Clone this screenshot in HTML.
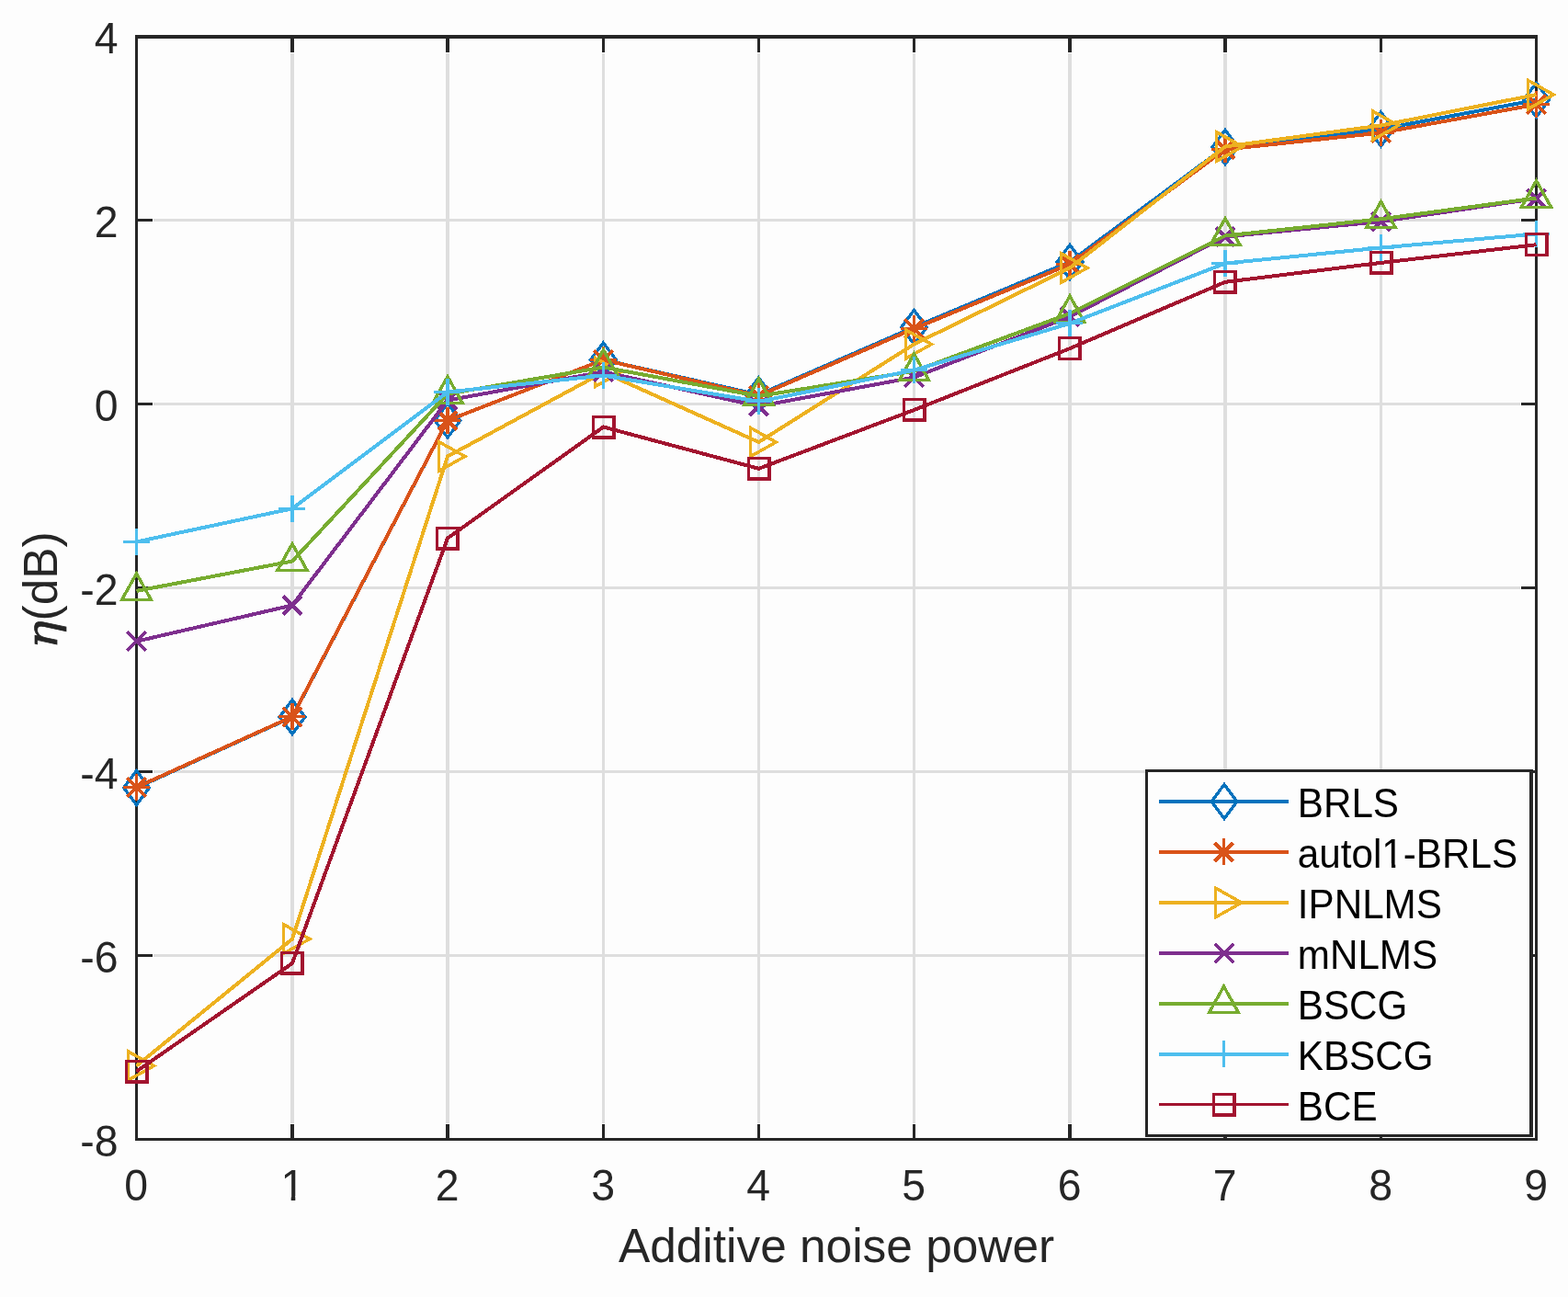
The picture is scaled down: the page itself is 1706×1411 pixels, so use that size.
<!DOCTYPE html>
<html lang="en"><head><meta charset="utf-8">
<style>html,body{margin:0;padding:0;background:#fdfdfd;}body{width:1706px;height:1411px;overflow:hidden;}svg{display:block;}text{font-family:"Liberation Sans",sans-serif;font-kerning:none;}.tk{font-size:46.4px;fill:#262626;}.lb{font-size:51.4px;fill:#262626;}.lg{font-size:42.2px;fill:#000;}.eta{font-family:"DejaVu Serif","Liberation Serif",serif;font-style:italic;font-size:46.5px;fill:#262626;}</style></head><body>
<svg width="1706" height="1411" viewBox="0 0 1706 1411">
<rect x="0" y="0" width="1706" height="1411" fill="#fdfdfd"/>
<g shape-rendering="crispEdges">
<rect x="316" y="58" width="4" height="1164" fill="#dedede"/>
<rect x="485" y="58" width="4" height="1164" fill="#dedede"/>
<rect x="655" y="58" width="3" height="1164" fill="#dedede"/>
<rect x="824" y="58" width="3" height="1164" fill="#dedede"/>
<rect x="993" y="58" width="3" height="1164" fill="#dedede"/>
<rect x="1162" y="58" width="4" height="1164" fill="#dedede"/>
<rect x="1331" y="58" width="4" height="1164" fill="#dedede"/>
<rect x="1501" y="58" width="3" height="1164" fill="#dedede"/>
<rect x="167" y="238" width="1487" height="3" fill="#dedede"/>
<rect x="167" y="438" width="1487" height="3" fill="#dedede"/>
<rect x="167" y="638" width="1487" height="3" fill="#dedede"/>
<rect x="167" y="838" width="1487" height="3" fill="#dedede"/>
<rect x="167" y="1038" width="1487" height="3" fill="#dedede"/>
<rect x="147" y="38" width="1526" height="4" fill="#262626"/>
<rect x="147" y="1238" width="1526" height="3" fill="#262626"/>
<rect x="147" y="38" width="3" height="1203" fill="#262626"/>
<rect x="1670" y="38" width="3" height="1203" fill="#262626"/>
<rect x="316" y="42" width="4" height="15" fill="#262626"/>
<rect x="316" y="1223" width="4" height="15" fill="#262626"/>
<rect x="485" y="42" width="4" height="15" fill="#262626"/>
<rect x="485" y="1223" width="4" height="15" fill="#262626"/>
<rect x="655" y="42" width="3" height="15" fill="#262626"/>
<rect x="655" y="1223" width="3" height="15" fill="#262626"/>
<rect x="824" y="42" width="3" height="15" fill="#262626"/>
<rect x="824" y="1223" width="3" height="15" fill="#262626"/>
<rect x="993" y="42" width="3" height="15" fill="#262626"/>
<rect x="993" y="1223" width="3" height="15" fill="#262626"/>
<rect x="1162" y="42" width="4" height="15" fill="#262626"/>
<rect x="1162" y="1223" width="4" height="15" fill="#262626"/>
<rect x="1331" y="42" width="4" height="15" fill="#262626"/>
<rect x="1331" y="1223" width="4" height="15" fill="#262626"/>
<rect x="1501" y="42" width="3" height="15" fill="#262626"/>
<rect x="1501" y="1223" width="3" height="15" fill="#262626"/>
<rect x="150" y="238" width="16" height="3" fill="#262626"/>
<rect x="1655" y="238" width="15" height="3" fill="#262626"/>
<rect x="150" y="438" width="16" height="3" fill="#262626"/>
<rect x="1655" y="438" width="15" height="3" fill="#262626"/>
<rect x="150" y="638" width="16" height="3" fill="#262626"/>
<rect x="1655" y="638" width="15" height="3" fill="#262626"/>
<rect x="150" y="838" width="16" height="3" fill="#262626"/>
<rect x="1655" y="838" width="15" height="3" fill="#262626"/>
<rect x="150" y="1038" width="16" height="3" fill="#262626"/>
<rect x="1655" y="1038" width="15" height="3" fill="#262626"/>
</g>
<text class="tk" transform="translate(148.2 1306.2) scale(1 1.031)" text-anchor="middle">0</text>
<text class="tk" transform="translate(318.4 1306.2) scale(1 1.031)" text-anchor="middle">1</text>
<rect x="305" y="1301.2" width="11.7" height="6.3" fill="#fdfdfd"/>
<rect x="321.3" y="1301.2" width="10.7" height="6.3" fill="#fdfdfd"/>
<text class="tk" transform="translate(486.7 1306.2) scale(1 1.031)" text-anchor="middle">2</text>
<text class="tk" transform="translate(656.2 1306.2) scale(1 1.031)" text-anchor="middle">3</text>
<text class="tk" transform="translate(825.2 1306.2) scale(1 1.031)" text-anchor="middle">4</text>
<text class="tk" transform="translate(994.2 1306.2) scale(1 1.031)" text-anchor="middle">5</text>
<text class="tk" transform="translate(1163.7 1306.2) scale(1 1.031)" text-anchor="middle">6</text>
<text class="tk" transform="translate(1332.7 1306.2) scale(1 1.031)" text-anchor="middle">7</text>
<text class="tk" transform="translate(1502.2 1306.2) scale(1 1.031)" text-anchor="middle">8</text>
<text class="tk" transform="translate(1671.2 1306.2) scale(1 1.031)" text-anchor="middle">9</text>
<text class="tk" transform="translate(128.6 58) scale(1 1.031)" text-anchor="end">4</text>
<text class="tk" transform="translate(128.6 258) scale(1 1.031)" text-anchor="end">2</text>
<text class="tk" transform="translate(128.6 458) scale(1 1.031)" text-anchor="end">0</text>
<text class="tk" transform="translate(128.6 658) scale(1 1.031)" text-anchor="end">-2</text>
<text class="tk" transform="translate(128.6 858) scale(1 1.031)" text-anchor="end">-4</text>
<text class="tk" transform="translate(128.6 1058) scale(1 1.031)" text-anchor="end">-6</text>
<text class="tk" transform="translate(128.6 1258) scale(1 1.031)" text-anchor="end">-8</text>
<text class="lb" x="910" y="1373.1" text-anchor="middle">Additive noise power</text>
<text class="lb" transform="translate(62 705.6) rotate(-90)"><tspan class="eta" stroke="#262626" stroke-width="0.7" textLength="30.2" lengthAdjust="spacingAndGlyphs">η</tspan>(dB)</text>
<g shape-rendering="crispEdges"><polyline points="148.5,857 318,780 487,457.5 656.5,391.5 825.5,429.5 994.5,356 1164,285 1333,159.9 1502.5,140.5 1671.5,108.8" fill="none" stroke="#0072BD" stroke-width="4" stroke-linejoin="round"/>
<path d="M148.5 835.7L164.5 857L148.5 878.3L132.5 857ZM148.5 841.17L160.3 857L148.5 872.83L136.7 857Z" fill="#0072BD" fill-rule="evenodd"/>
<path d="M318 758.7L334 780L318 801.3L302 780ZM318 764.17L329.8 780L318 795.83L306.2 780Z" fill="#0072BD" fill-rule="evenodd"/>
<path d="M487 436.2L503 457.5L487 478.8L471 457.5ZM487 441.67L498.8 457.5L487 473.33L475.2 457.5Z" fill="#0072BD" fill-rule="evenodd"/>
<path d="M656.5 370.2L672.5 391.5L656.5 412.8L640.5 391.5ZM656.5 375.67L668.3 391.5L656.5 407.33L644.7 391.5Z" fill="#0072BD" fill-rule="evenodd"/>
<path d="M825.5 408.2L841.5 429.5L825.5 450.8L809.5 429.5ZM825.5 413.67L837.3 429.5L825.5 445.33L813.7 429.5Z" fill="#0072BD" fill-rule="evenodd"/>
<path d="M994.5 334.7L1010.5 356L994.5 377.3L978.5 356ZM994.5 340.17L1006.3 356L994.5 371.83L982.7 356Z" fill="#0072BD" fill-rule="evenodd"/>
<path d="M1164 263.7L1180 285L1164 306.3L1148 285ZM1164 269.17L1175.8 285L1164 300.83L1152.2 285Z" fill="#0072BD" fill-rule="evenodd"/>
<path d="M1333 138.6L1349 159.9L1333 181.2L1317 159.9ZM1333 144.07L1344.8 159.9L1333 175.73L1321.2 159.9Z" fill="#0072BD" fill-rule="evenodd"/>
<path d="M1502.5 119.2L1518.5 140.5L1502.5 161.8L1486.5 140.5ZM1502.5 124.67L1514.3 140.5L1502.5 156.33L1490.7 140.5Z" fill="#0072BD" fill-rule="evenodd"/>
<path d="M1671.5 87.5L1687.5 108.8L1671.5 130.1L1655.5 108.8ZM1671.5 92.97L1683.3 108.8L1671.5 124.63L1659.7 108.8Z" fill="#0072BD" fill-rule="evenodd"/>
</g>
<g shape-rendering="crispEdges"><polyline points="148.5,856.5 318,779.7 487,457.5 656.5,391.5 825.5,430.5 994.5,357.5 1164,287.5 1333,162.5 1502.5,144.5 1671.5,113.7" fill="none" stroke="#D95319" stroke-width="4" stroke-linejoin="round"/>
<rect x="147" y="842" width="3" height="29" fill="#D95319"/><rect x="134" y="855" width="29" height="3" fill="#D95319"/><path d="M138.3 846.3L158.7 866.7M138.3 866.7L158.7 846.3" stroke="#D95319" stroke-width="3.8" fill="none"/>
<rect x="316" y="765" width="4" height="29" fill="#D95319"/><rect x="303" y="778" width="29" height="3" fill="#D95319"/><path d="M307.8 769.5L328.2 789.9M307.8 789.9L328.2 769.5" stroke="#D95319" stroke-width="3.8" fill="none"/>
<rect x="485" y="443" width="4" height="29" fill="#D95319"/><rect x="472" y="456" width="29" height="3" fill="#D95319"/><path d="M476.8 447.3L497.2 467.7M476.8 467.7L497.2 447.3" stroke="#D95319" stroke-width="3.8" fill="none"/>
<rect x="655" y="377" width="3" height="29" fill="#D95319"/><rect x="642" y="390" width="29" height="3" fill="#D95319"/><path d="M646.3 381.3L666.7 401.7M646.3 401.7L666.7 381.3" stroke="#D95319" stroke-width="3.8" fill="none"/>
<rect x="824" y="416" width="3" height="29" fill="#D95319"/><rect x="811" y="429" width="29" height="3" fill="#D95319"/><path d="M815.3 420.3L835.7 440.7M815.3 440.7L835.7 420.3" stroke="#D95319" stroke-width="3.8" fill="none"/>
<rect x="993" y="343" width="3" height="29" fill="#D95319"/><rect x="980" y="356" width="29" height="3" fill="#D95319"/><path d="M984.3 347.3L1004.7 367.7M984.3 367.7L1004.7 347.3" stroke="#D95319" stroke-width="3.8" fill="none"/>
<rect x="1162" y="273" width="4" height="29" fill="#D95319"/><rect x="1149" y="286" width="29" height="3" fill="#D95319"/><path d="M1153.8 277.3L1174.2 297.7M1153.8 297.7L1174.2 277.3" stroke="#D95319" stroke-width="3.8" fill="none"/>
<rect x="1331" y="148" width="4" height="29" fill="#D95319"/><rect x="1318" y="161" width="29" height="3" fill="#D95319"/><path d="M1322.8 152.3L1343.2 172.7M1322.8 172.7L1343.2 152.3" stroke="#D95319" stroke-width="3.8" fill="none"/>
<rect x="1501" y="130" width="3" height="29" fill="#D95319"/><rect x="1488" y="143" width="29" height="3" fill="#D95319"/><path d="M1492.3 134.3L1512.7 154.7M1492.3 154.7L1512.7 134.3" stroke="#D95319" stroke-width="3.8" fill="none"/>
<rect x="1670" y="99" width="3" height="29" fill="#D95319"/><rect x="1657" y="112" width="29" height="3" fill="#D95319"/><path d="M1661.3 103.5L1681.7 123.9M1661.3 123.9L1681.7 103.5" stroke="#D95319" stroke-width="3.8" fill="none"/>
</g>
<g shape-rendering="crispEdges"><polyline points="148.5,1159.5 318,1021.5 487,496.5 656.5,405 825.5,481 994.5,374.5 1164,291.5 1333,159.5 1502.5,136.5 1671.5,103" fill="none" stroke="#EDB120" stroke-width="4" stroke-linejoin="round"/>
<path d="M170.9 1159.5L137.5 1178.2L137.5 1140.8ZM163.9 1159.5L140.5 1172.55L140.5 1146.45Z" fill="#EDB120" fill-rule="evenodd"/>
<path d="M340.4 1021.5L307 1040.2L307 1002.8ZM333.4 1021.5L310 1034.55L310 1008.45Z" fill="#EDB120" fill-rule="evenodd"/>
<path d="M509.4 496.5L476 515.2L476 477.8ZM502.4 496.5L479 509.55L479 483.45Z" fill="#EDB120" fill-rule="evenodd"/>
<path d="M678.9 405L645.5 423.7L645.5 386.3ZM671.9 405L648.5 418.05L648.5 391.95Z" fill="#EDB120" fill-rule="evenodd"/>
<path d="M847.9 481L814.5 499.7L814.5 462.3ZM840.9 481L817.5 494.05L817.5 467.95Z" fill="#EDB120" fill-rule="evenodd"/>
<path d="M1016.9 374.5L983.5 393.2L983.5 355.8ZM1009.9 374.5L986.5 387.55L986.5 361.45Z" fill="#EDB120" fill-rule="evenodd"/>
<path d="M1186.4 291.5L1153 310.2L1153 272.8ZM1179.4 291.5L1156 304.55L1156 278.45Z" fill="#EDB120" fill-rule="evenodd"/>
<path d="M1355.4 159.5L1322 178.2L1322 140.8ZM1348.4 159.5L1325 172.55L1325 146.45Z" fill="#EDB120" fill-rule="evenodd"/>
<path d="M1524.9 136.5L1491.5 155.2L1491.5 117.8ZM1517.9 136.5L1494.5 149.55L1494.5 123.45Z" fill="#EDB120" fill-rule="evenodd"/>
<path d="M1693.9 103L1660.5 121.7L1660.5 84.3ZM1686.9 103L1663.5 116.05L1663.5 89.95Z" fill="#EDB120" fill-rule="evenodd"/>
</g>
<g shape-rendering="crispEdges"><polyline points="148.5,697.7 318,658.5 487,435.5 656.5,404.5 825.5,441.9 994.5,410.5 1164,344.5 1333,257.5 1502.5,241 1671.5,216" fill="none" stroke="#7E2F8E" stroke-width="4" stroke-linejoin="round"/>
<path d="M138.3 687.5L158.7 707.9M138.3 707.9L158.7 687.5" stroke="#7E2F8E" stroke-width="3.8" fill="none"/>
<path d="M307.8 648.3L328.2 668.7M307.8 668.7L328.2 648.3" stroke="#7E2F8E" stroke-width="3.8" fill="none"/>
<path d="M476.8 425.3L497.2 445.7M476.8 445.7L497.2 425.3" stroke="#7E2F8E" stroke-width="3.8" fill="none"/>
<path d="M646.3 394.3L666.7 414.7M646.3 414.7L666.7 394.3" stroke="#7E2F8E" stroke-width="3.8" fill="none"/>
<path d="M815.3 431.7L835.7 452.1M815.3 452.1L835.7 431.7" stroke="#7E2F8E" stroke-width="3.8" fill="none"/>
<path d="M984.3 400.3L1004.7 420.7M984.3 420.7L1004.7 400.3" stroke="#7E2F8E" stroke-width="3.8" fill="none"/>
<path d="M1153.8 334.3L1174.2 354.7M1153.8 354.7L1174.2 334.3" stroke="#7E2F8E" stroke-width="3.8" fill="none"/>
<path d="M1322.8 247.3L1343.2 267.7M1322.8 267.7L1343.2 247.3" stroke="#7E2F8E" stroke-width="3.8" fill="none"/>
<path d="M1492.3 230.8L1512.7 251.2M1492.3 251.2L1512.7 230.8" stroke="#7E2F8E" stroke-width="3.8" fill="none"/>
<path d="M1661.3 205.8L1681.7 226.2M1661.3 226.2L1681.7 205.8" stroke="#7E2F8E" stroke-width="3.8" fill="none"/>
</g>
<g shape-rendering="crispEdges"><polyline points="148.5,642.9 318,610.5 487,428.5 656.5,399.5 825.5,430.9 994.5,403.8 1164,341 1333,256.5 1502.5,238.3 1671.5,215.5" fill="none" stroke="#77AC30" stroke-width="4" stroke-linejoin="round"/>
<path d="M148.5 620.5L167.2 653.9L129.8 653.9ZM148.5 627.5L161.55 650.9L135.45 650.9Z" fill="#77AC30" fill-rule="evenodd"/>
<path d="M318 588.1L336.7 621.5L299.3 621.5ZM318 595.1L331.05 618.5L304.95 618.5Z" fill="#77AC30" fill-rule="evenodd"/>
<path d="M487 406.1L505.7 439.5L468.3 439.5ZM487 413.1L500.05 436.5L473.95 436.5Z" fill="#77AC30" fill-rule="evenodd"/>
<path d="M656.5 377.1L675.2 410.5L637.8 410.5ZM656.5 384.1L669.55 407.5L643.45 407.5Z" fill="#77AC30" fill-rule="evenodd"/>
<path d="M825.5 408.5L844.2 441.9L806.8 441.9ZM825.5 415.5L838.55 438.9L812.45 438.9Z" fill="#77AC30" fill-rule="evenodd"/>
<path d="M994.5 381.4L1013.2 414.8L975.8 414.8ZM994.5 388.4L1007.55 411.8L981.45 411.8Z" fill="#77AC30" fill-rule="evenodd"/>
<path d="M1164 318.6L1182.7 352L1145.3 352ZM1164 325.6L1177.05 349L1150.95 349Z" fill="#77AC30" fill-rule="evenodd"/>
<path d="M1333 234.1L1351.7 267.5L1314.3 267.5ZM1333 241.1L1346.05 264.5L1319.95 264.5Z" fill="#77AC30" fill-rule="evenodd"/>
<path d="M1502.5 215.9L1521.2 249.3L1483.8 249.3ZM1502.5 222.9L1515.55 246.3L1489.45 246.3Z" fill="#77AC30" fill-rule="evenodd"/>
<path d="M1671.5 193.1L1690.2 226.5L1652.8 226.5ZM1671.5 200.1L1684.55 223.5L1658.45 223.5Z" fill="#77AC30" fill-rule="evenodd"/>
</g>
<g shape-rendering="crispEdges"><polyline points="148.5,589.5 318,553.3 487,426.5 656.5,408.5 825.5,436.8 994.5,402.8 1164,351.8 1333,286.5 1502.5,269.5 1671.5,254.5" fill="none" stroke="#4DBEEE" stroke-width="4" stroke-linejoin="round"/>
<rect x="147" y="575" width="3" height="29" fill="#4DBEEE"/><rect x="134" y="588" width="29" height="3" fill="#4DBEEE"/>
<rect x="316" y="539" width="4" height="29" fill="#4DBEEE"/><rect x="303" y="552" width="29" height="3" fill="#4DBEEE"/>
<rect x="485" y="412" width="4" height="29" fill="#4DBEEE"/><rect x="472" y="425" width="29" height="3" fill="#4DBEEE"/>
<rect x="655" y="394" width="3" height="29" fill="#4DBEEE"/><rect x="642" y="407" width="29" height="3" fill="#4DBEEE"/>
<rect x="824" y="422" width="3" height="29" fill="#4DBEEE"/><rect x="811" y="435" width="29" height="3" fill="#4DBEEE"/>
<rect x="993" y="388" width="3" height="29" fill="#4DBEEE"/><rect x="980" y="401" width="29" height="3" fill="#4DBEEE"/>
<rect x="1162" y="337" width="4" height="29" fill="#4DBEEE"/><rect x="1149" y="350" width="29" height="3" fill="#4DBEEE"/>
<rect x="1331" y="272" width="4" height="29" fill="#4DBEEE"/><rect x="1318" y="285" width="29" height="3" fill="#4DBEEE"/>
<rect x="1501" y="255" width="3" height="29" fill="#4DBEEE"/><rect x="1488" y="268" width="29" height="3" fill="#4DBEEE"/>
<rect x="1670" y="240" width="3" height="29" fill="#4DBEEE"/><rect x="1657" y="253" width="29" height="3" fill="#4DBEEE"/>
</g>
<g shape-rendering="crispEdges"><polyline points="148.5,1165.5 318,1048 487,585.5 656.5,464.5 825.5,509.8 994.5,446 1164,379.1 1333,306.8 1502.5,285.9 1671.5,266.2" fill="none" stroke="#A2142F" stroke-width="4" stroke-linejoin="round"/>
<path d="M135.5 1152.5L161.5 1152.5L161.5 1178.5L135.5 1178.5ZM138.5 1155.5L157.9 1155.5L157.9 1174.9L138.5 1174.9Z" fill="#A2142F" fill-rule="evenodd"/>
<path d="M305 1035L331 1035L331 1061L305 1061ZM308 1038L327.4 1038L327.4 1057.4L308 1057.4Z" fill="#A2142F" fill-rule="evenodd"/>
<path d="M474 572.5L500 572.5L500 598.5L474 598.5ZM477 575.5L496.4 575.5L496.4 594.9L477 594.9Z" fill="#A2142F" fill-rule="evenodd"/>
<path d="M643.5 451.5L669.5 451.5L669.5 477.5L643.5 477.5ZM646.5 454.5L665.9 454.5L665.9 473.9L646.5 473.9Z" fill="#A2142F" fill-rule="evenodd"/>
<path d="M812.5 496.8L838.5 496.8L838.5 522.8L812.5 522.8ZM815.5 499.8L834.9 499.8L834.9 519.2L815.5 519.2Z" fill="#A2142F" fill-rule="evenodd"/>
<path d="M981.5 433L1007.5 433L1007.5 459L981.5 459ZM984.5 436L1003.9 436L1003.9 455.4L984.5 455.4Z" fill="#A2142F" fill-rule="evenodd"/>
<path d="M1151 366.1L1177 366.1L1177 392.1L1151 392.1ZM1154 369.1L1173.4 369.1L1173.4 388.5L1154 388.5Z" fill="#A2142F" fill-rule="evenodd"/>
<path d="M1320 293.8L1346 293.8L1346 319.8L1320 319.8ZM1323 296.8L1342.4 296.8L1342.4 316.2L1323 316.2Z" fill="#A2142F" fill-rule="evenodd"/>
<path d="M1489.5 272.9L1515.5 272.9L1515.5 298.9L1489.5 298.9ZM1492.5 275.9L1511.9 275.9L1511.9 295.3L1492.5 295.3Z" fill="#A2142F" fill-rule="evenodd"/>
<path d="M1658.5 253.2L1684.5 253.2L1684.5 279.2L1658.5 279.2ZM1661.5 256.2L1680.9 256.2L1680.9 275.6L1661.5 275.6Z" fill="#A2142F" fill-rule="evenodd"/>
</g>
<g shape-rendering="crispEdges">
<rect x="1246" y="837" width="422" height="400" fill="#262626"/>
<rect x="1249" y="840" width="415" height="394" fill="#fdfdfd"/>
</g>
<rect x="1261" y="870" width="141" height="4" fill="#0072BD" shape-rendering="crispEdges"/>
<g shape-rendering="crispEdges"><path d="M1332 850.7L1348 872L1332 893.3L1316 872ZM1332 856.17L1343.8 872L1332 887.83L1320.2 872Z" fill="#0072BD" fill-rule="evenodd"/></g>
<text class="lg" transform="translate(1411.8 888.7) scale(1 1.044)">BRLS</text>
<rect x="1261" y="925" width="141" height="4" fill="#D95319" shape-rendering="crispEdges"/>
<g shape-rendering="crispEdges"><rect x="1330" y="912" width="3" height="29" fill="#D95319"/><rect x="1317" y="926" width="29" height="3" fill="#D95319"/><path d="M1321.3 916.8L1341.7 937.2M1321.3 937.2L1341.7 916.8" stroke="#D95319" stroke-width="3.8" fill="none"/></g>
<text class="lg" transform="translate(1411.8 943.7) scale(1 1.030)">autol1-BRLS</text>
<rect x="1504.5" y="939.2" width="9.5" height="5.5" fill="#fdfdfd"/>
<rect x="1518.2" y="939.2" width="9.8" height="5.5" fill="#fdfdfd"/>
<rect x="1261" y="980" width="141" height="4" fill="#EDB120" shape-rendering="crispEdges"/>
<g shape-rendering="crispEdges"><path d="M1354.4 982L1321 1000.7L1321 963.3ZM1347.4 982L1324 995.05L1324 968.95Z" fill="#EDB120" fill-rule="evenodd"/></g>
<text class="lg" transform="translate(1411.8 998.7) scale(1 1.044)">IPNLMS</text>
<rect x="1261" y="1035" width="141" height="4" fill="#7E2F8E" shape-rendering="crispEdges"/>
<g shape-rendering="crispEdges"><path d="M1321.8 1026.8L1342.2 1047.2M1321.8 1047.2L1342.2 1026.8" stroke="#7E2F8E" stroke-width="3.8" fill="none"/></g>
<text class="lg" transform="translate(1411.8 1053.7) scale(1 1.044)">mNLMS</text>
<rect x="1261" y="1090" width="141" height="4" fill="#77AC30" shape-rendering="crispEdges"/>
<g shape-rendering="crispEdges"><path d="M1331.5 1069.6L1350.2 1103L1312.8 1103ZM1331.5 1076.6L1344.55 1100L1318.45 1100Z" fill="#77AC30" fill-rule="evenodd"/></g>
<text class="lg" transform="translate(1411.8 1108.7) scale(1 1.044)">BSCG</text>
<rect x="1261" y="1145" width="141" height="4" fill="#4DBEEE" shape-rendering="crispEdges"/>
<g shape-rendering="crispEdges"><rect x="1330" y="1132" width="3" height="29" fill="#4DBEEE"/><rect x="1317" y="1146" width="29" height="3" fill="#4DBEEE"/></g>
<text class="lg" transform="translate(1411.8 1163.7) scale(1 1.044)">KBSCG</text>
<rect x="1261" y="1200" width="141" height="3" fill="#A2142F" shape-rendering="crispEdges"/>
<g shape-rendering="crispEdges"><path d="M1319 1189L1345 1189L1345 1215L1319 1215ZM1322 1192L1341.4 1192L1341.4 1211.4L1322 1211.4Z" fill="#A2142F" fill-rule="evenodd"/></g>
<text class="lg" transform="translate(1411.8 1218.7) scale(1 1.044)">BCE</text>
</svg></body></html>
